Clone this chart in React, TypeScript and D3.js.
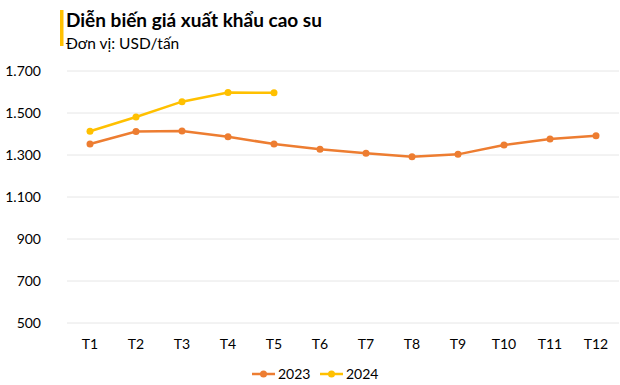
import React from 'react';
import * as d3 from 'd3';

const months = ['T1', 'T2', 'T3', 'T4', 'T5', 'T6', 'T7', 'T8', 'T9', 'T10', 'T11', 'T12'];
const values2023 = [1352, 1412, 1414, 1387, 1352, 1327, 1308, 1292, 1303, 1348, 1376, 1392];
const values2024 = [1413, 1481, 1554, 1598, 1596];
const yTicks = [500, 700, 900, 1100, 1300, 1500, 1700];

const width = 620;
const height = 385;
const font = 'Lato, "Open Sans", sans-serif';

const fmt = (v: number) => d3.format(',')(v).replace(/,/g, '.');

const App = () => {
  const x = d3.scaleBand().domain(months).range([67, 619]);
  const y = d3.scaleLinear().domain([500, 1700]).range([323, 71]);
  const cx = (m: string) => (x(m) as number) + x.bandwidth() / 2;

  const line = d3.line<number>()
    .x((_, i) => cx(months[i]))
    .y(d => y(d));

  const series = [
    { name: '2023', values: values2023, color: '#ED7D31' },
    { name: '2024', values: values2024, color: '#FFC000' },
  ];

  return (
    <svg width={width} height={height} style={{ position: 'absolute', left: 0, top: 0, background: '#fff' }}>
      <rect x={60} y={10} width={3.5} height={36} fill="#FFC000" />
      <text x={66} y={27} fontFamily={font} fontWeight="bold" fontSize={19} fill="#000">Diễn biến giá xuất khẩu cao su</text>
      <text x={66} y={49} fontFamily={font} fontSize={15.5} fill="#000">Đơn vị: USD/tấn</text>

      {yTicks.map(t => (
        <g key={t}>
          <line x1={67} x2={619} y1={y(t)} y2={y(t)} stroke="#e6e6e6" strokeWidth={1} />
          <text x={41} y={y(t)} dy="0.35em" textAnchor="end" fontFamily={font} fontSize={14} fill="#000">{fmt(t)}</text>
        </g>
      ))}

      {months.map(m => (
        <text key={m} x={cx(m)} y={344} dy="0.35em" textAnchor="middle" fontFamily={font} fontSize={14} fill="#000">{m}</text>
      ))}

      {series.map(s => (
        <g key={s.name}>
          <path d={line(s.values) as string} fill="none" stroke={s.color} strokeWidth={2.5} />
          {s.values.map((v, i) => (
            <circle key={i} cx={cx(months[i])} cy={y(v)} r={3.5} fill={s.color} />
          ))}
        </g>
      ))}

      {series.map((s, i) => {
        const lx = 252 + i * 68;
        return (
          <g key={s.name}>
            <line x1={lx} x2={lx + 23} y1={374} y2={374} stroke={s.color} strokeWidth={2.5} />
            <circle cx={lx + 11.5} cy={374} r={3.5} fill={s.color} />
            <text x={lx + 26} y={374} dy="0.35em" fontFamily={font} fontSize={14} fill="#000">{s.name}</text>
          </g>
        );
      })}
    </svg>
  );
};

export default App;
